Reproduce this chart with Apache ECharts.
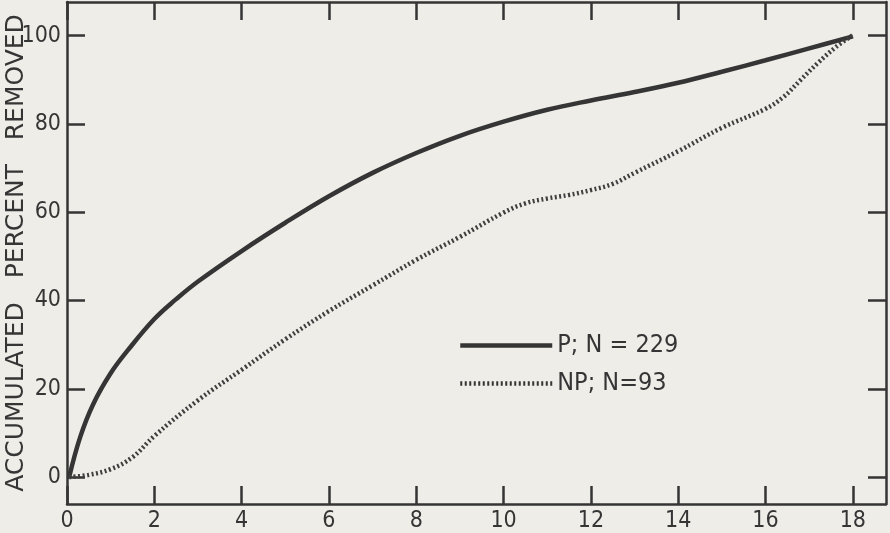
<!DOCTYPE html>
<html>
<head>
<meta charset="utf-8">
<script src="https://cdn.jsdelivr.net/npm/echarts@6/dist/echarts.min.js"></script>
<style>
html,body{margin:0;padding:0;background:#eeede8;}
#chart{width:890px;height:533px;}
</style>
</head>
<body>
<div id="chart"></div>
<script>
// P curve (solid)
var pX = [0.05, 0.3, 0.6, 1.0, 1.4, 2.0, 2.5, 3.0, 4.0, 5.0, 6.0, 7.0, 8.0, 9.0, 10.0, 11.0, 12.0, 13.0, 14.0, 15.0, 16.0, 17.0, 18.0];
var pY = [0, 9, 16.5, 23.5, 28.8, 35.8, 40.3, 44.3, 51.2, 57.6, 63.6, 68.9, 73.4, 77.3, 80.5, 83.2, 85.3, 87.2, 89.3, 91.8, 94.4, 97.1, 99.8];
// NP curve (dotted)
var npX = [0.05, 0.5, 1.0, 1.5, 2.0, 3.0, 4.0, 5.0, 6.0, 7.0, 8.0, 9.0, 10.0, 10.5, 11.0, 11.5, 12.0, 12.5, 13.0, 14.0, 15.0, 16.0, 16.4, 16.8, 17.2, 17.6, 18.0];
var npY = [0, 0.5, 1.8, 4.5, 9.3, 17.4, 24.3, 31.2, 37.6, 43.4, 49.2, 54.4, 59.9, 62, 63.1, 63.9, 65, 66.4, 68.9, 73.8, 79.1, 83.4, 86, 89.9, 93.8, 97.3, 100.1];
var xTicks = [0, 2, 4, 6, 8, 10, 12, 14, 16, 18];
var yTicks = [0, 20, 40, 60, 80, 100];
var names = ['P; N = 229', 'NP; N=93'];

var ink = '#353535';
var numFont = "'Liberation Sans Narrow', 'DejaVu Sans Condensed', 'Liberation Sans', sans-serif";

var pairs = function (xs, ys) {
    var out = [];
    for (var i = 0; i < xs.length; i++) {
        out.push([xs[i], ys[i]]);
    }
    return out;
};

var tickStyle = function (vals) {
    return { show: true, inside: true, length: 18, customValues: vals, lineStyle: { color: ink, width: 2.5 } };
};

var axisBase = function (extra) {
    var ax = {
        type: 'value',
        axisLine: { show: true, onZero: false, lineStyle: { color: ink, width: 2.5 } },
        splitLine: { show: false },
        axisLabel: { show: false }
    };
    for (var k in extra) ax[k] = extra[k];
    return ax;
};

var chart = echarts.init(document.getElementById('chart'));
chart.setOption({
    backgroundColor: '#eeede8',
    animation: false,
    grid: { left: 67, right: 4, top: 2, bottom: 29, outerBoundsMode: 'none', containLabel: false },
    legend: {
        orient: 'vertical',
        left: 458,
        top: 333,
        padding: 0,
        itemWidth: 92,
        itemHeight: 14,
        itemGap: 13,
        textStyle: { color: ink, fontSize: 25, fontFamily: numFont },
        data: [
            { name: names[0], itemStyle: { opacity: 0 }, lineStyle: { width: 4.5, type: 'solid', color: ink } },
            { name: names[1], itemStyle: { opacity: 0 }, lineStyle: { width: 4.5, type: [2, 2.5], color: ink } }
        ]
    },
    xAxis: [
        axisBase({
            min: 0, max: 18.76, position: 'bottom',
            axisTick: tickStyle(xTicks),
            axisLabel: { show: true, customValues: xTicks, margin: 6, color: ink, fontSize: 23, fontFamily: numFont }
        }),
        axisBase({
            min: 0, max: 18.76, position: 'top',
            axisTick: tickStyle(xTicks)
        })
    ],
    yAxis: [
        axisBase({
            min: -6.1, max: 107.6, position: 'left',
            name: 'ACCUMULATED   PERCENT   REMOVED',
            nameLocation: 'middle',
            nameRotate: 90,
            nameGap: 38,
            nameMoveOverlap: false,
            nameTextStyle: { color: ink, fontSize: 25, fontFamily: "'DejaVu Sans', sans-serif" },
            axisTick: tickStyle(yTicks),
            axisLabel: { show: true, customValues: yTicks, margin: 6, color: ink, fontSize: 23, fontFamily: numFont }
        }),
        axisBase({
            min: -6.1, max: 107.6, position: 'right',
            axisTick: tickStyle(yTicks)
        })
    ],
    series: [
        {
            name: names[0],
            type: 'line',
            smooth: 0.4,
            symbol: 'none',
            lineStyle: { color: ink, width: 4.5 },
            itemStyle: { color: ink },
            data: pairs(pX, pY)
        },
        {
            name: names[1],
            type: 'line',
            smooth: 0.4,
            symbol: 'none',
            lineStyle: { color: '#3f3f3f', width: 4.5, type: [2, 2.5] },
            itemStyle: { color: '#3f3f3f' },
            data: pairs(npX, npY)
        }
    ]
});
</script>
</body>
</html>
